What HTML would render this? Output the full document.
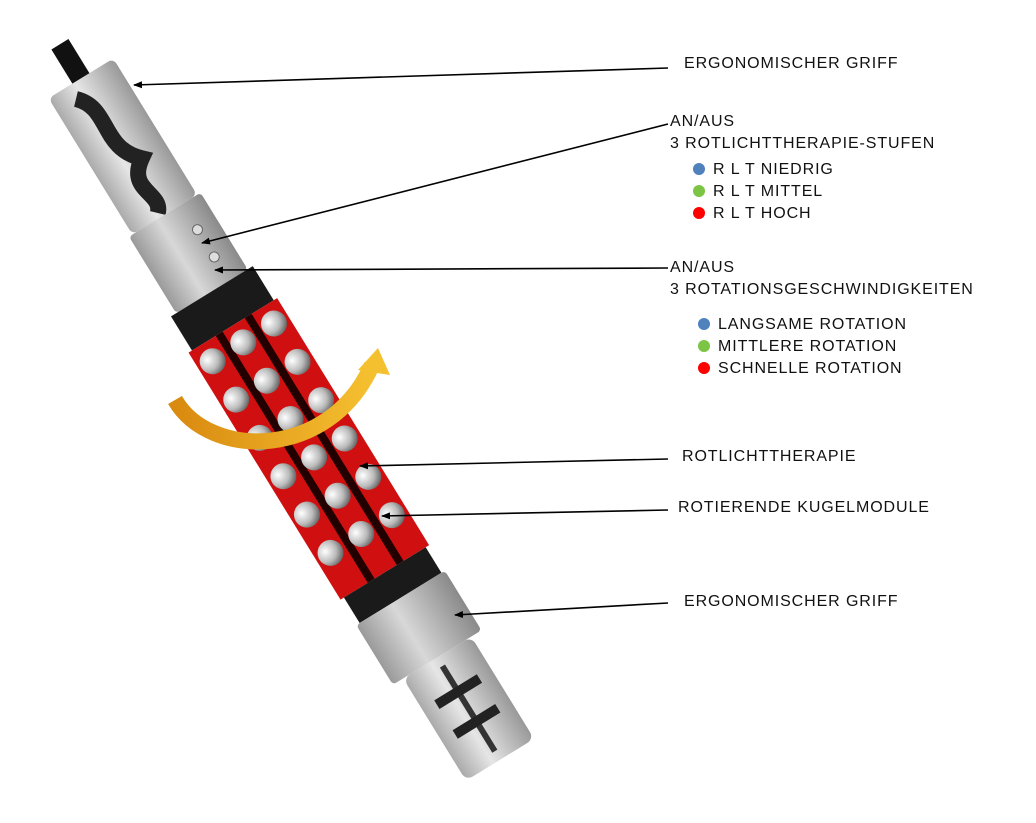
<!DOCTYPE html>
<html><head><meta charset="utf-8"><style>
html,body{margin:0;padding:0;background:#fff;}
body{width:1036px;height:823px;position:relative;overflow:hidden;font-family:"Liberation Sans",sans-serif;}
.t{position:absolute;font-size:16px;color:#111;letter-spacing:0.9px;line-height:22px;white-space:nowrap;}
.d{display:inline-block;width:12px;height:12px;border-radius:50%;vertical-align:-1px;margin-right:8px;}
</style></head><body>
<svg width="1036" height="823" style="position:absolute;left:0;top:0">
<defs>
<marker id="a" markerWidth="9" markerHeight="7" refX="8" refY="3.5" orient="auto" markerUnits="userSpaceOnUse"><path d="M0,0 L9,3.5 L0,7 z" fill="#000"/></marker>
<linearGradient id="g1" x1="0" x2="1"><stop offset="0" stop-color="#9a9a9a"/><stop offset=".4" stop-color="#d8d8d8"/><stop offset="1" stop-color="#8a8a8a"/></linearGradient>
<linearGradient id="g2" x1="0" x2="1"><stop offset="0" stop-color="#aaa"/><stop offset=".4" stop-color="#e6e6e6"/><stop offset="1" stop-color="#999"/></linearGradient>
<radialGradient id="b" cx=".35" cy=".35" r=".7"><stop offset="0" stop-color="#fff"/><stop offset=".6" stop-color="#bbb"/><stop offset="1" stop-color="#666"/></radialGradient>
<linearGradient id="o" x1="0" x2="1"><stop offset="0" stop-color="#d98a10"/><stop offset="1" stop-color="#f5c030"/></linearGradient>
</defs>
<g transform="translate(280,402) rotate(-31.6)">
<g transform="translate(0,-420)">
<rect x="-10" y="0" width="20" height="45" fill="#111"/>
<rect x="-38" y="40" width="76" height="160" rx="6" fill="url(#g2)"/>
<path d="M-15,55 C10,80 -20,110 10,140 C-20,160 10,180 -5,195" stroke="#222" stroke-width="16" fill="none"/>
<rect x="-42" y="200" width="84" height="90" rx="4" fill="url(#g1)"/>
<circle cx="20" cy="230" r="5" fill="#ddd" stroke="#666"/><circle cx="20" cy="262" r="5" fill="#ddd" stroke="#666"/>
<rect x="-48" y="290" width="96" height="40" fill="#1a1a1a"/>
<rect x="-52" y="330" width="104" height="290" fill="#d01010"/>
<rect x="-20" y="330" width="8" height="290" fill="#200"/><rect x="14" y="330" width="8" height="290" fill="#200"/>
<g fill="url(#b)">
<circle cx="-36" cy="350" r="13"/><circle cx="0" cy="350" r="13"/><circle cx="36" cy="350" r="13"/>
<circle cx="-36" cy="395" r="13"/><circle cx="0" cy="395" r="13"/><circle cx="36" cy="395" r="13"/>
<circle cx="-36" cy="440" r="13"/><circle cx="0" cy="440" r="13"/><circle cx="36" cy="440" r="13"/>
<circle cx="-36" cy="485" r="13"/><circle cx="0" cy="485" r="13"/><circle cx="36" cy="485" r="13"/>
<circle cx="-36" cy="530" r="13"/><circle cx="0" cy="530" r="13"/><circle cx="36" cy="530" r="13"/>
<circle cx="-36" cy="575" r="13"/><circle cx="0" cy="575" r="13"/><circle cx="36" cy="575" r="13"/>
</g>
<rect x="-48" y="620" width="96" height="30" fill="#1a1a1a"/>
<rect x="-52" y="650" width="104" height="70" rx="4" fill="url(#g1)"/>
<rect x="-40" y="720" width="80" height="120" rx="8" fill="url(#g2)"/>
<rect x="-3" y="730" width="6" height="100" fill="#333"/>
<path d="M-25,760 h50 M-25,795 h50" stroke="#222" stroke-width="10"/>
</g></g>
<path d="M175,400 C210,460 330,460 372,365" stroke="url(#o)" stroke-width="16" fill="none"/>
<path d="M358,370 L378,348 L390,375 z" fill="#f5c030"/>
<g stroke="#000" stroke-width="1.6" marker-end="url(#a)">
<line x1="668" y1="68" x2="134" y2="85"/>
<line x1="668" y1="124" x2="202" y2="243"/>
<line x1="668" y1="268" x2="215" y2="270"/>
<line x1="668" y1="459" x2="360" y2="466"/>
<line x1="668" y1="510" x2="382" y2="516"/>
<line x1="668" y1="603" x2="455" y2="615"/>
</g>
</svg>
<div class="t" style="left:684px;top:53px">ERGONOMISCHER GRIFF</div>
<div class="t" style="left:670px;top:111px">AN/AUS<br>3 ROTLICHTTHERAPIE-STUFEN</div>
<div class="t" style="left:693px;top:159px"><span class="d" style="background:#4f81bd"></span>R L T NIEDRIG<br><span class="d" style="background:#7cc444"></span>R L T MITTEL<br><span class="d" style="background:#f00"></span>R L T HOCH</div>
<div class="t" style="left:670px;top:257px">AN/AUS<br>3 ROTATIONSGESCHWINDIGKEITEN</div>
<div class="t" style="left:698px;top:314px"><span class="d" style="background:#4f81bd"></span>LANGSAME ROTATION<br><span class="d" style="background:#7cc444"></span>MITTLERE ROTATION<br><span class="d" style="background:#f00"></span>SCHNELLE ROTATION</div>
<div class="t" style="left:682px;top:446px">ROTLICHTTHERAPIE</div>
<div class="t" style="left:678px;top:497px">ROTIERENDE KUGELMODULE</div>
<div class="t" style="left:684px;top:591px">ERGONOMISCHER GRIFF</div>
</body></html>
